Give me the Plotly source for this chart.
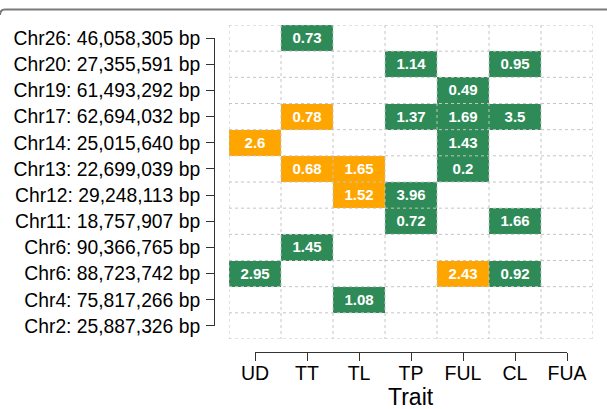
import plotly.graph_objects as go

W, H = 607, 409

traits = ["UD", "TT", "TL", "TP", "FUL", "CL", "FUA"]
loci = [
    "Chr26: 46,058,305 bp",
    "Chr20: 27,355,591 bp",
    "Chr19: 61,493,292 bp",
    "Chr17: 62,694,032 bp",
    "Chr14: 25,015,640 bp",
    "Chr13: 22,699,039 bp",
    "Chr12: 29,248,113 bp",
    "Chr11: 18,757,907 bp",
    "Chr6: 90,366,765 bp",
    "Chr6: 88,723,742 bp",
    "Chr4: 75,817,266 bp",
    "Chr2: 25,887,326 bp",
]

N = None
# effect values, rows = loci (top to bottom), columns = traits
values = [
    [N, 0.73, N, N, N, N, N],
    [N, N, N, 1.14, N, 0.95, N],
    [N, N, N, N, 0.49, N, N],
    [N, 0.78, N, 1.37, 1.69, 3.5, N],
    [2.6, N, N, N, 1.43, N, N],
    [N, 0.68, 1.65, N, 0.2, N, N],
    [N, N, 1.52, 3.96, N, N, N],
    [N, N, N, 0.72, N, 1.66, N],
    [N, 1.45, N, N, N, N, N],
    [2.95, N, N, N, 2.43, 0.92, N],
    [N, N, 1.08, N, N, N, N],
    [N, N, N, N, N, N, N],
]
# effect group: 1 = green, 2 = orange
groups = [
    [N, 1, N, N, N, N, N],
    [N, N, N, 1, N, 1, N],
    [N, N, N, N, 1, N, N],
    [N, 2, N, 1, 1, 1, N],
    [2, N, N, N, 1, N, N],
    [N, 2, 2, N, 1, N, N],
    [N, N, 2, 1, N, N, N],
    [N, N, N, 1, N, 1, N],
    [N, 1, N, N, N, N, N],
    [1, N, N, N, 2, 1, N],
    [N, N, 1, N, N, N, N],
    [N, N, N, N, N, N, N],
]

GREEN = "#2E8B57"
ORANGE = "#FFA500"
FONT = "Liberation Sans, Arial, Helvetica, sans-serif"

nx, ny = len(traits), len(loci)

# grid area in pixels
gx0, gx1 = 229, 593
gy0, gy1 = 25, 339
cw = (gx1 - gx0) / nx
rh = (gy1 - gy0) / ny

def px(x):
    return x / W

def py(y):
    return 1 - y / H

text = [["" if v is None else str(v) for v in row] for row in values]
zcat = [[0 if g is None else g for g in row] for row in groups]

fig = go.Figure()
fig.add_trace(go.Heatmap(
    x=list(range(nx)), y=list(range(ny)), z=zcat,
    text=text, texttemplate="%{text}",
    textfont=dict(family=FONT, size=15, color="white", weight="bold"),
    colorscale=[[0, "rgba(255,255,255,0)"], [1 / 3, "rgba(255,255,255,0)"],
                [1 / 3, GREEN], [2 / 3, GREEN], [2 / 3, ORANGE], [1, ORANGE]],
    zmin=0, zmax=2, showscale=False, xgap=0, ygap=0,
    hoverinfo="skip",
))
# helper trace for the detached R-style axes
fig.add_trace(go.Scatter(x=[], y=[], xaxis="x2", yaxis="y2", showlegend=False))

shapes = []
grid = dict(color="#c4c4c4", width=1, dash="3px,3px")
for i in range(nx + 1):
    shapes.append(dict(type="line", xref="x", yref="y", x0=i - 0.5, x1=i - 0.5,
                       y0=-0.5, y1=ny - 0.5, line=grid, layer="above"))
for j in range(ny + 1):
    shapes.append(dict(type="line", xref="x", yref="y", x0=-0.5, x1=nx - 0.5,
                       y0=j - 0.5, y1=j - 0.5, line=grid, layer="above"))
# top frame line
shapes.append(dict(type="path", xref="paper", yref="paper",
                   path=f"M 0,{py(15)} Q 0,{py(9.5)} {px(5)},{py(9.5)} L 1,{py(9.5)}",
                   line=dict(color="#7a7a7a", width=2)))

fig.update_layout(
    width=W, height=H, autosize=False,
    margin=dict(l=0, r=0, t=0, b=0),
    paper_bgcolor="white", plot_bgcolor="rgba(0,0,0,0)",
    font=dict(family=FONT, color="black"),
    showlegend=False,
    xaxis=dict(domain=[px(gx0), px(gx1)], range=[-0.5, nx - 0.5], visible=False,
               fixedrange=True),
    yaxis=dict(domain=[py(gy1), py(gy0)], range=[ny - 0.5, -0.5], visible=False,
               fixedrange=True),
    xaxis2=dict(domain=[px(gx0 + cw / 2), px(gx1 - cw / 2)], range=[0, nx - 1],
                anchor="free", position=py(352), side="bottom",
                tickmode="array", tickvals=list(range(nx)), ticktext=traits,
                showline=True, linecolor="#333", linewidth=1,
                ticks="outside", ticklen=8, tickcolor="#333", tickwidth=1,
                ticklabelstandoff=-4,
                tickfont=dict(size=19.5, color="black"),
                showgrid=False, zeroline=False, automargin=False, fixedrange=True),
    yaxis2=dict(domain=[py(gy1 - rh / 2), py(gy0 + rh / 2)], range=[ny - 1, 0],
                anchor="free", position=px(214), side="left",
                tickmode="array", tickvals=list(range(ny)), ticktext=loci,
                showline=True, linecolor="#333", linewidth=1,
                ticks="outside", ticklen=8, tickcolor="#333", tickwidth=1,
                ticklabelstandoff=2,
                tickfont=dict(size=19.3, color="black"),
                showgrid=False, zeroline=False, automargin=False, fixedrange=True),
    shapes=shapes,
    annotations=[dict(text="Trait", xref="paper", yref="paper",
                      x=px((gx0 + gx1) / 2), y=py(397), xanchor="center",
                      yanchor="middle", showarrow=False,
                      font=dict(size=23, color="black"))],
)

fig.write_html(
    "out.html",
    config={"displayModeBar": False},
    post_script="document.body.style.margin='0';document.body.style.padding='0';"
                "document.body.style.overflow='hidden';",
)
